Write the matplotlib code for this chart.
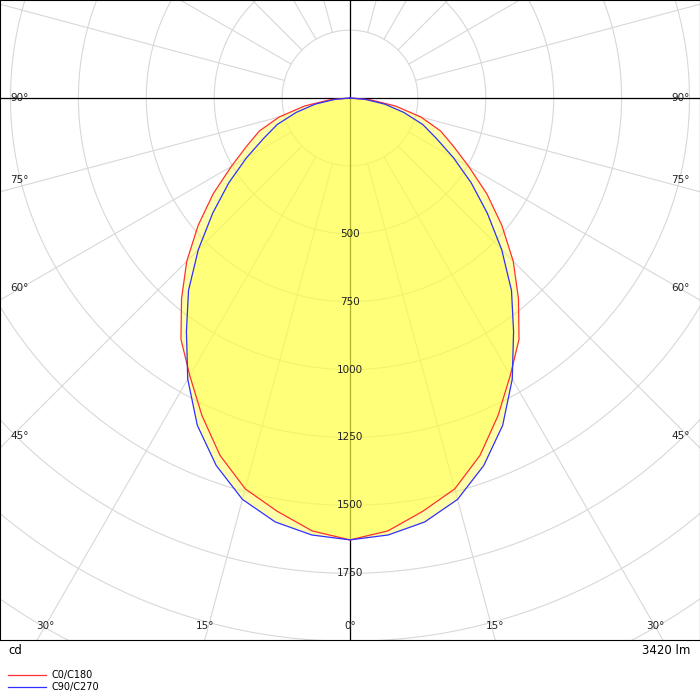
import numpy as np
import matplotlib
matplotlib.use("Agg")
import matplotlib.pyplot as plt

angles = [0, 5, 10, 15, 20, 25, 30, 35, 40, 45, 50, 55, 60, 65, 70, 75, 80, 85, 90]
c0_c180 = [1627, 1600, 1545, 1490, 1400, 1290, 1180, 1085, 965, 850, 730, 615, 505, 420, 355, 270, 170, 75, 0]
c90_c270 = [1627, 1615, 1585, 1530, 1440, 1330, 1195, 1050, 925, 790, 660, 545, 440, 350, 285, 205, 130, 55, 0]
ring_labels = [500, 750, 1000, 1250, 1500, 1750]
side_labels = [90, 75, 60, 45]
bottom_labels = [30, 15, 0]
flux = "3420 lm"

S = 0.2716  # px per cd
fig = plt.figure(figsize=(7, 7), dpi=100)
ax = fig.add_axes([0, 60/700, 1, 640/700])
xmax = 350 / S
ytop = 98 / S
ybot = -542 / S
ax.set_xlim(-xmax, xmax)
ax.set_ylim(ybot, ytop)
ax.set_aspect("equal")
ax.set_xticks([]); ax.set_yticks([])
for s in ax.spines.values():
    s.set_color("black"); s.set_linewidth(0.8)

t = np.linspace(0, 2*np.pi, 400)
for r in range(250, 5001, 250):
    ax.plot(r*np.cos(t), r*np.sin(t), color="#d8d8d8", lw=0.8, zorder=1)
for a in range(0, 360, 15):
    th = np.radians(a)
    ax.plot([250*np.sin(th), 5000*np.sin(th)], [-250*np.cos(th), -5000*np.cos(th)],
            color="#d8d8d8", lw=0.8, zorder=1)
ax.axhline(0, color="black", lw=0.9, zorder=2)
ax.axvline(0, color="black", lw=0.9, zorder=2)

def curve(vals):
    a = np.radians(np.array(angles, float))
    v = np.array(vals, float)
    aa = np.concatenate([-a[::-1], a[1:]])
    vv = np.concatenate([v[::-1], v[1:]])
    return vv*np.sin(aa), -vv*np.cos(aa)

for vals, col in [(c0_c180, "#ff3030"), (c90_c270, "#3030ff")]:
    x, y = curve(vals)
    ax.fill(x, y, color="#ffff40", alpha=0.45, lw=0, zorder=3)
    ax.plot(x, y, color=col, lw=0.9, zorder=4)

for v in ring_labels:
    ax.text(0, -v, str(v), ha="center", va="center", fontsize=7.5, color="#222", zorder=5)

for a in side_labels:
    th = np.radians(a)
    y = -xmax / np.tan(th) if a != 90 else 0
    yl = y + 12/S if a != 90 else 0
    ax.text(-xmax + 10/S, yl, f"{a}°", ha="left", va="center", fontsize=7.5, color="#222")
    ax.text(xmax - 10/S, yl, f"{a}°", ha="right", va="center", fontsize=7.5, color="#222")
for a in bottom_labels:
    th = np.radians(a)
    x = -ybot*np.tan(th)
    yl = ybot + 14/S
    for sgn in ([-1, 1] if a else [1]):
        xx = sgn*x
        xx = max(min(xx, xmax - 45/S), -xmax + 45/S)
        ax.text(xx, yl, f"{a}°", ha="center", va="center", fontsize=7.5, color="#222")

fig.text(8/700, 1-650/700, "cd", ha="left", va="center", fontsize=8.5)
fig.text(690/700, 1-650/700, flux, ha="right", va="center", fontsize=8.5)
for i, (lab, col) in enumerate([("C0/C180", "#ff3030"), ("C90/C270", "#3030ff")]):
    yy = 1 - (675 + 12*i)/700
    fig.add_artist(plt.Line2D([8/700, 46/700], [yy, yy], color=col, lw=0.9))
    fig.text(52/700, yy, lab, ha="left", va="center", fontsize=7)
fig.savefig("out.png", dpi=100)
